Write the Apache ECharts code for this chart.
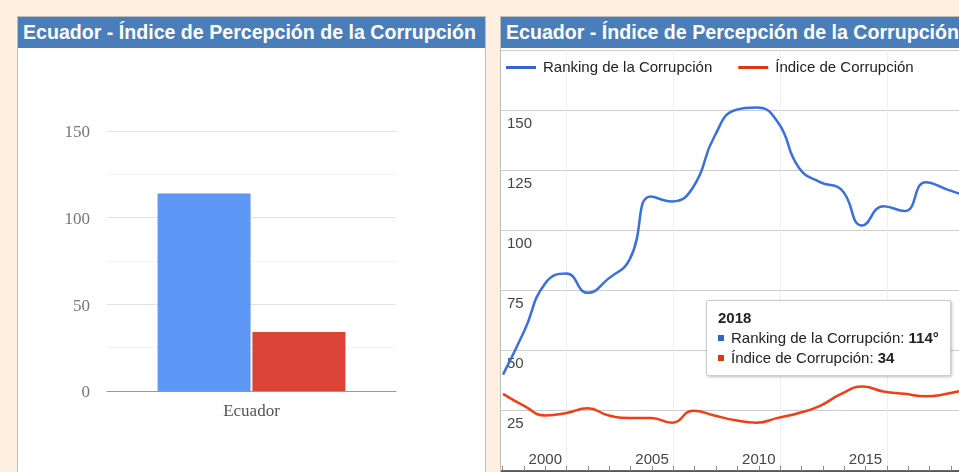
<!DOCTYPE html>
<html><head><meta charset="utf-8">
<script src="https://cdn.jsdelivr.net/npm/echarts@6/dist/echarts.min.js"></script>
<style>
html,body{margin:0;padding:0;width:959px;height:472px;overflow:hidden;background:#fdf0e0;}
.panel{position:absolute;top:16px;border:1px solid #bdbdbd;background:#fff;height:480px;overflow:hidden;}
.hdr{height:27px;padding-top:4px;line-height:31px;background:#4a7ebb;color:#fff;font:bold 19.6px 'Liberation Sans',Arial,sans-serif;padding-left:5px;white-space:nowrap;overflow:hidden;}
#bar,#line{position:absolute;top:48px;height:424px;}
</style></head><body>
<div class="panel" style="left:17px;width:467px"><div class="hdr">Ecuador - Índice de Percepción de la Corrupción</div></div>
<div class="panel" style="left:500px;width:600px"><div class="hdr">Ecuador - Índice de Percepción de la Corrupción</div></div>
<div id="bar" style="left:18px;width:466px"></div>
<div id="line" style="left:501px;width:540px"></div>
<script>
// ---- data ----
const seriesNames = ['Ranking de la Corrupción', 'Índice de Corrupción'];
const countries = ['Ecuador'];
const barRanking = [114];
const barIndex = [34];
const years = [1996, 1997, 1998, 1999, 2000, 2001, 2002, 2003, 2004, 2005, 2006, 2007, 2008, 2009, 2010, 2011, 2012, 2013, 2014, 2015, 2016, 2017, 2018];
const ranking = [40, 58, 78, 82, 74, 80, 88, 114, 112, 118, 139, 150, 151, 145, 126, 120, 117, 102, 110, 108, 120, 117, 114];
const indice = [32, 27, 23, 24, 26, 23, 22, 22, 20, 25, 23, 21, 20, 22, 24, 27, 32, 35, 33, 32, 31, 32, 34];
const xTickLabels = [2000, 2005, 2010, 2015];
const xMinorTicks = [1998, 1999, 2000, 2001, 2002, 2003, 2004, 2005, 2006, 2007, 2008, 2009, 2010, 2011, 2012, 2013, 2014, 2015, 2016, 2017, 2018, 2019];
const xGridLines = [2001, 2006, 2011, 2016];
const yTickLabels = [25, 50, 75, 100, 125, 150];

const sans = "'Liberation Sans', Arial, sans-serif";
const serif = "'Liberation Serif', 'Times New Roman', serif";
const BLUE = '#3366cc', RED = '#dc3912';

// ---- bar chart ----
const bar = echarts.init(document.getElementById('bar'));
bar.setOption({
  animation: false,
  grid: { left: 89, top: 83, width: 289, height: 260 },
  xAxis: {
    type: 'category', data: countries,
    axisLine: { lineStyle: { color: '#999' } },
    axisTick: { show: false },
    axisLabel: { margin: 12, color: '#555', fontFamily: serif, fontSize: 17 }
  },
  yAxis: {
    type: 'value', min: 0, max: 150, interval: 50,
    axisLine: { show: false }, axisTick: { show: false },
    axisLabel: { margin: 17, color: '#777', fontFamily: serif, fontSize: 17, verticalAlign: 'top', lineHeight: 4 },
    splitLine: { lineStyle: { color: '#e2e2e2' } },
    minorTick: { show: false, splitNumber: 2 },
    minorSplitLine: { show: true, lineStyle: { color: '#f3f3f3' } }
  },
  series: [
    { type: 'bar', name: seriesNames[0], data: barRanking, barWidth: 93, barGap: '2%', itemStyle: { color: '#5e97f6' } },
    { type: 'bar', name: seriesNames[1], data: barIndex, barWidth: 93, itemStyle: { color: '#db4437' } }
  ]
});

// ---- line chart ----
const line = echarts.init(document.getElementById('line'));
const lastIdx = years.length - 1;
line.setOption({
  animation: false,
  grid: { left: 0, top: 1.9, width: 467, height: 420.9 },
  legend: {
    left: 0, top: 7, icon: 'rect', itemWidth: 30, itemHeight: 3, itemGap: 26,
    textStyle: { fontSize: 15, color: '#222', fontFamily: sans, padding: [0, 0, 0, 2] },
    data: seriesNames
  },
  tooltip: {
    trigger: 'axis', axisPointer: { type: 'none' }, alwaysShowContent: true,
    transitionDuration: 0, position: [205, 252],
    backgroundColor: '#fff', borderColor: '#cccccc', borderWidth: 1, padding: [7, 11],
    textStyle: { fontSize: 15, color: '#222', fontFamily: sans },
    extraCssText: 'box-shadow:1px 1px 3px rgba(0,0,0,0.25);border-radius:2px;line-height:20px;',
    formatter: function (params) {
      const i = params[0].dataIndex;
      const sq = c => '<span style="display:inline-block;width:6px;height:6px;background:' + c + ';margin-right:7px;vertical-align:middle;position:relative;top:-1px"></span>';
      return '<div style="font-weight:bold">' + years[i] + '</div>' +
        '<div>' + sq(BLUE) + seriesNames[0] + ': <b>' + ranking[i] + '°</b></div>' +
        '<div>' + sq(RED) + seriesNames[1] + ': <b>' + indice[i] + '</b></div>';
    }
  },
  xAxis: [
    { type: 'value', min: 1995.905, max: 2018, show: false },
    {
      type: 'value', min: 1997.925, max: 2019.8, position: 'bottom',
      axisLine: { show: true, onZero: false, lineStyle: { color: '#333', width: 1.5 } },
      axisTick: { show: true, inside: true, length: 5, customValues: xMinorTicks, lineStyle: { color: '#888' } },
      axisLabel: { inside: true, margin: 3, customValues: xTickLabels, formatter: v => String(v), color: '#444', fontSize: 15, fontFamily: sans },
      splitLine: { show: false }
    },
    {
      type: 'value', min: 1997.925, max: 2019.8, position: 'bottom',
      axisLine: { show: false }, axisLabel: { show: false },
      axisTick: { show: false, customValues: xGridLines },
      splitLine: { show: true, lineStyle: { color: '#efefef' } }
    }
  ],
  yAxis: {
    type: 'value', min: 0, max: 175, interval: 25,
    axisLine: { show: false }, axisTick: { show: false },
    axisLabel: { inside: true, margin: 6, customValues: yTickLabels, verticalAlign: 'top', padding: [6, 0, 0, 0], color: '#444', fontSize: 15, fontFamily: sans },
    splitLine: { lineStyle: { color: '#cccccc' } }
  },
  series: [
    { type: 'line', name: seriesNames[0], xAxisIndex: 0, data: years.map((y, i) => [y, ranking[i]]), smooth: 0.5, showSymbol: false, symbol: 'circle', symbolSize: 12, color: BLUE, lineStyle: { width: 2.5, color: BLUE }, itemStyle: { color: BLUE } },
    { type: 'line', name: seriesNames[1], xAxisIndex: 0, data: years.map((y, i) => [y, indice[i]]), smooth: 0.5, showSymbol: false, symbol: 'circle', symbolSize: 12, color: RED, lineStyle: { width: 2.5, color: RED }, itemStyle: { color: RED } }
  ]
});
line.dispatchAction({ type: 'showTip', seriesIndex: 0, dataIndex: lastIdx });
</script>
</body></html>
